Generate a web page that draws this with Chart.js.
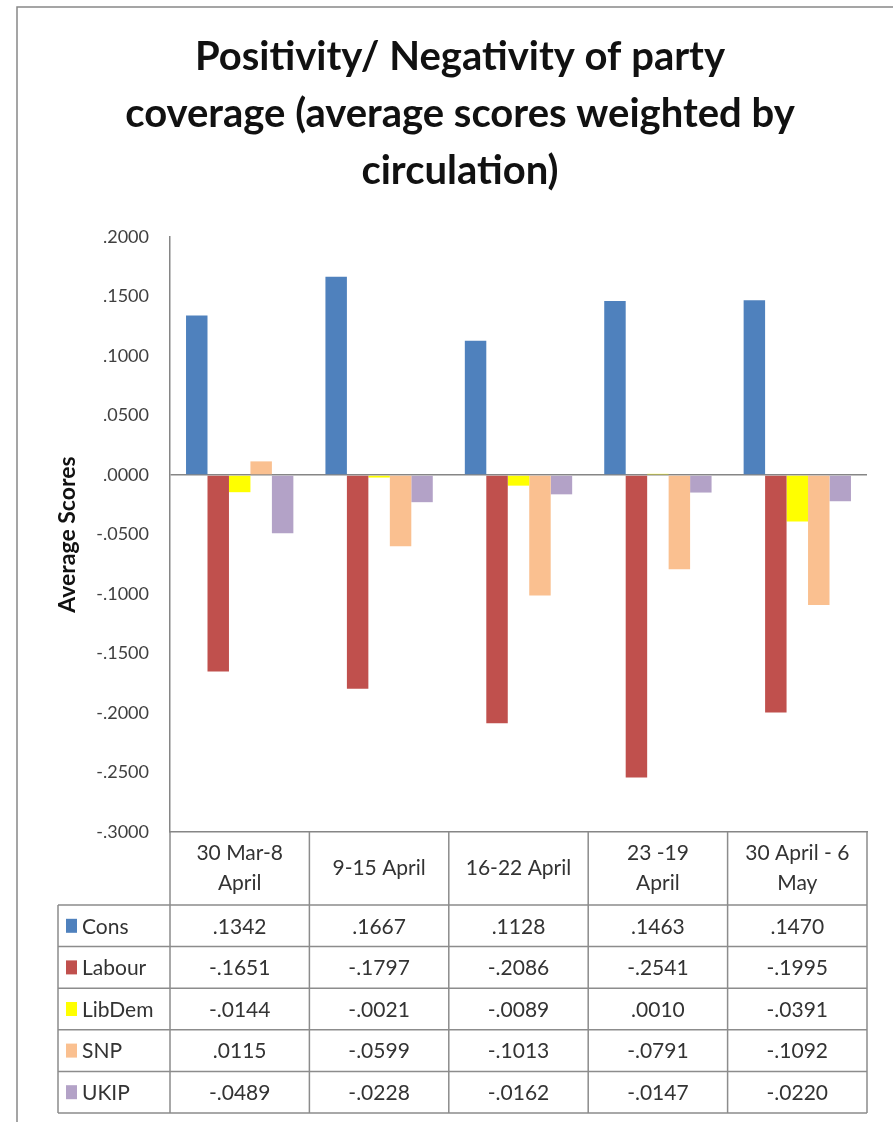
<!DOCTYPE html>
<html>
<head>
<meta charset="utf-8">
<script src="https://cdn.jsdelivr.net/npm/chart.js@4.4.1/dist/chart.umd.min.js"></script>
<style>
  body { margin: 0; background: #fff; }
  canvas { display: block; }
</style>
</head>
<body>
<canvas id="chart" width="893" height="1122"></canvas>
<script>
const periods = [['30 Mar-8', 'April'], ['9-15 April'], ['16-22 April'], ['23 -19', 'April'], ['30 April - 6', 'May']];
const parties = ['Cons', 'Labour', 'LibDem', 'SNP', 'UKIP'];
const cons = [0.1342, 0.1667, 0.1128, 0.1463, 0.1470];
const labour = [-0.1651, -0.1797, -0.2086, -0.2541, -0.1995];
const libDem = [-0.0144, -0.0021, -0.0089, 0.0010, -0.0391];
const snp = [0.0115, -0.0599, -0.1013, -0.0791, -0.1092];
const ukip = [-0.0489, -0.0228, -0.0162, -0.0147, -0.0220];
const colours = ['#4F81BD', '#C0504D', '#FFFF00', '#FAC090', '#B3A2C7'];
const series = [cons, labour, libDem, snp, ukip];

const FONT = 'Lato, "Open Sans", sans-serif';
const LINE = '#8C8C8C';

// .1342 / -.1651 style, like the Excel number format
function fmt(v) {
    const r = Math.round(v * 10000);
    return (r < 0 ? '-' : '') + '.' + String(Math.abs(r)).padStart(4, '0');
}

const frame = {
    id: 'frame',
    beforeDraw(chart) {
        const c = chart.ctx;
        c.save();
        c.fillStyle = '#fff';
        c.fillRect(0, 0, chart.width, chart.height);
        c.strokeStyle = '#888';
        c.lineWidth = 1.5;
        c.beginPath();
        c.moveTo(17, chart.height + 2);
        c.lineTo(17, 7);
        c.lineTo(chart.width + 2, 7);
        c.stroke();
        c.restore();
    }
};

// data table under the plot, columns follow the x scale
const dataTable = {
    id: 'dataTable',
    afterDraw(chart) {
        const c = chart.ctx;
        const area = chart.chartArea;
        const xs = chart.scales.x;
        const n = periods.length;
        const colW = (area.right - area.left) / n;
        const headTop = area.bottom;
        const headBottom = 905;
        const rowH = 41.6;
        const tableLeft = 58;
        const tableBottom = headBottom + rowH * parties.length;

        c.save();
        c.strokeStyle = LINE;
        c.lineWidth = 1.5;
        c.beginPath();
        for (let i = 0; i <= n; i++) {
            const x = area.left + i * colW;
            c.moveTo(x, headTop);
            c.lineTo(x, tableBottom);
        }
        c.moveTo(tableLeft, headBottom);
        c.lineTo(tableLeft, tableBottom);
        for (let r = 0; r <= parties.length; r++) {
            const y = headBottom + r * rowH;
            c.moveTo(tableLeft, y);
            c.lineTo(area.right, y);
        }
        c.stroke();

        c.fillStyle = '#333';
        c.textAlign = 'center';
        c.textBaseline = 'middle';
        c.font = '21px ' + FONT;
        periods.forEach((lines, i) => {
            const cx = xs.getPixelForValue(i);
            const mid = (headTop + headBottom) / 2;
            const lh = 30;
            lines.forEach((t, k) => {
                c.fillText(t, cx, mid + (k - (lines.length - 1) / 2) * lh);
            });
        });

        parties.forEach((p, r) => {
            const cy = headBottom + (r + 0.5) * rowH;
            c.fillStyle = colours[r];
            c.fillRect(tableLeft + 8, cy - 7, 11, 14);
            c.fillStyle = '#333';
            c.textAlign = 'left';
            c.fillText(p, tableLeft + 24, cy + 1);
            c.textAlign = 'center';
            series[r].forEach((v, i) => {
                c.fillText(fmt(v), xs.getPixelForValue(i), cy + 1);
            });
        });
        c.restore();
    }
};

new Chart(document.getElementById('chart'), {
    type: 'bar',
    data: {
        labels: periods,
        datasets: parties.map((p, i) => ({
            label: p,
            data: series[i],
            backgroundColor: colours[i],
            borderWidth: 0,
            barPercentage: 1,
            categoryPercentage: 0.77
        }))
    },
    options: {
        responsive: false,
        animation: false,
        devicePixelRatio: 1,
        layout: { padding: { top: 0, right: 0, bottom: 282, left: 27 } },
        plugins: {
            legend: { display: false },
            tooltip: { enabled: false },
            title: {
                display: true,
                text: ['Positivity/ Negativity of party', 'coverage (average scores weighted by', 'circulation)'],
                color: '#111',
                font: { family: FONT, size: 40, weight: 'bold', lineHeight: 1.43 },
                padding: { top: 28, bottom: 37.5 }
            }
        },
        scales: {
            x: {
                ticks: { display: false },
                grid: { display: false },
                border: { display: true, color: '#868686', width: 1.5 }
            },
            y: {
                min: -0.3,
                max: 0.2,
                afterFit(scale) { scale.width = 143; },
                ticks: {
                    stepSize: 0.05,
                    padding: 21,
                    color: '#404040',
                    font: { family: FONT, size: 18 },
                    callback: v => fmt(v)
                },
                grid: {
                    drawTicks: false,
                    color: ctx => Math.abs(ctx.tick.value) < 1e-9 ? '#868686' : 'rgba(0,0,0,0)',
                    lineWidth: 1.5
                },
                border: { display: true, color: '#868686', width: 1.5 },
                title: {
                    display: true,
                    text: 'Average Scores',
                    color: '#111',
                    font: { family: FONT, size: 23, weight: 'bold' },
                    padding: { top: 27 }
                }
            },
            // empty right-hand axis, only reserves the margin right of the plot
            spacer: {
                type: 'linear',
                position: 'right',
                display: true,
                afterFit(scale) { scale.width = 26; },
                ticks: { display: false },
                grid: { display: false },
                border: { display: false }
            }
        }
    },
    plugins: [frame, dataTable]
});
</script>
</body>
</html>
